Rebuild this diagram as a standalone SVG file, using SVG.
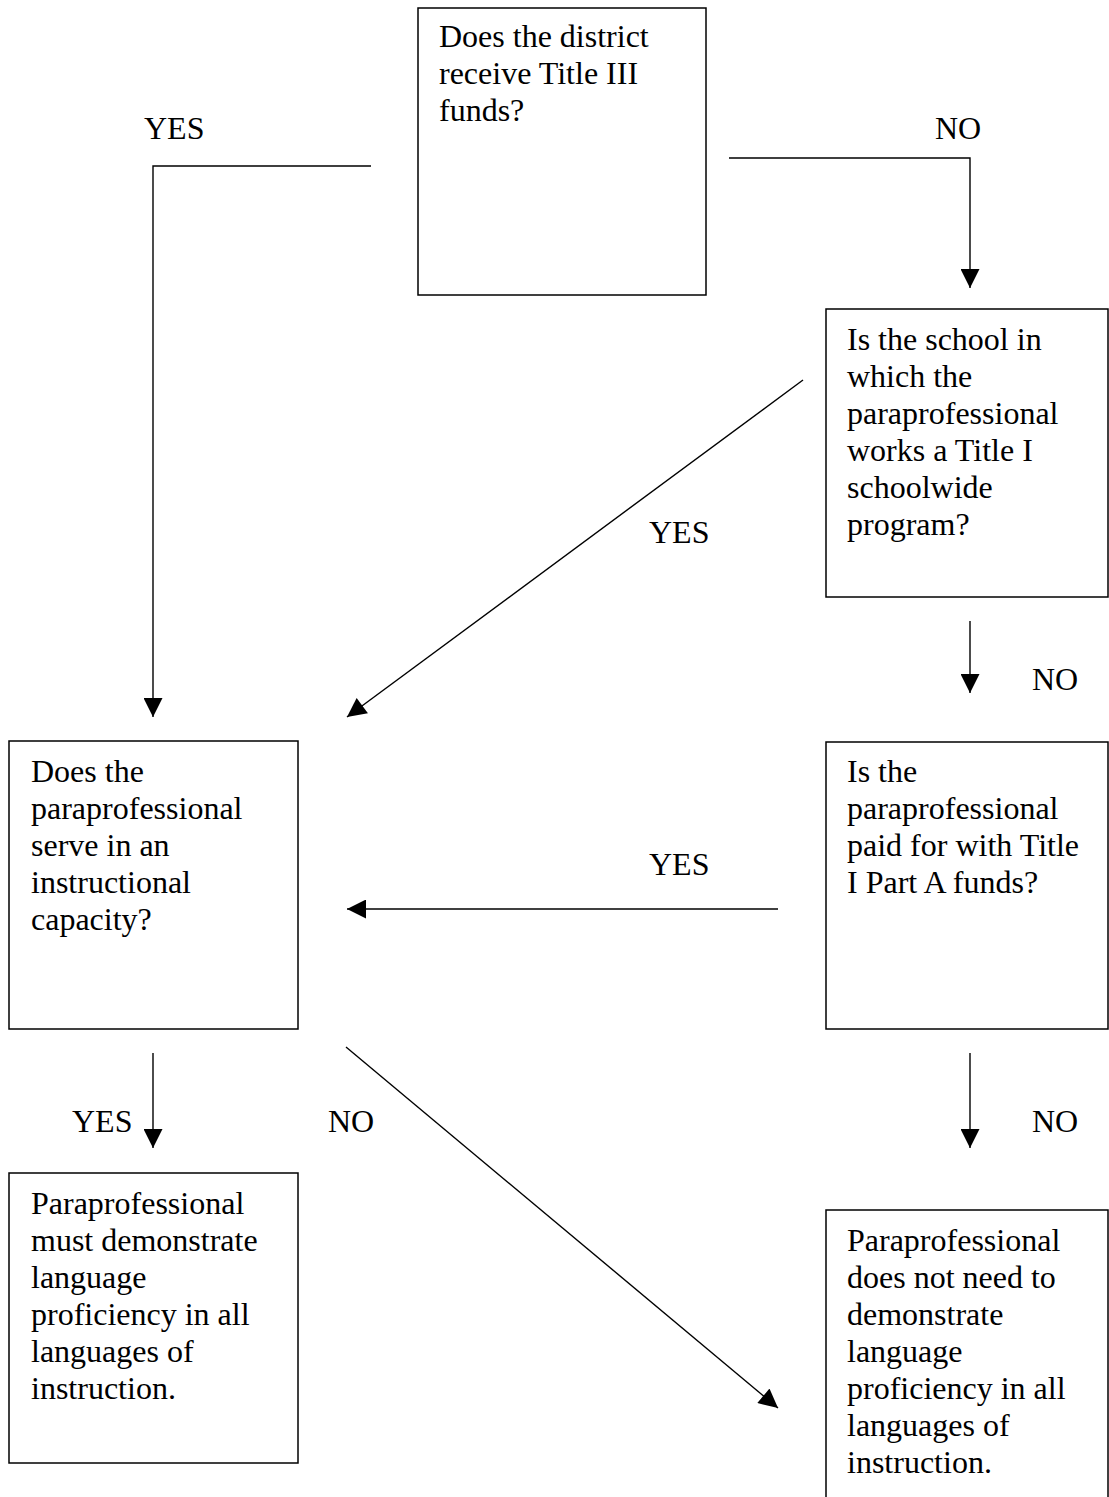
<svg xmlns="http://www.w3.org/2000/svg" width="1109" height="1497" viewBox="0 0 1109 1497">
<style>
.box{fill:#fff;stroke:#000;stroke-width:1.5}
.t{font-family:"Liberation Serif","Times New Roman",serif;font-size:32px;fill:#000}
.c{fill:none;stroke:#000;stroke-width:1.4}
</style>
<defs>
<marker id="ah" viewBox="0 0 20 20" refX="20" refY="10" markerWidth="20" markerHeight="19" markerUnits="userSpaceOnUse" orient="auto">
<path d="M0,0 L20,10 L0,20 Z" fill="#000"/>
</marker>
</defs>
<rect width="1109" height="1497" fill="#fff"/>
<g id="connectors">
<polyline class="c" points="371,166 153,166 153,717" marker-end="url(#ah)"/>
<polyline class="c" points="729,158 970,158 970,288" marker-end="url(#ah)"/>
<line class="c" x1="803" y1="380" x2="347" y2="717" marker-end="url(#ah)"/>
<line class="c" x1="970" y1="621" x2="970" y2="693" marker-end="url(#ah)"/>
<line class="c" x1="778" y1="909" x2="347" y2="909" marker-end="url(#ah)"/>
<line class="c" x1="153" y1="1053" x2="153" y2="1148" marker-end="url(#ah)"/>
<line class="c" x1="346" y1="1047" x2="778" y2="1408" marker-end="url(#ah)"/>
<line class="c" x1="970" y1="1053" x2="970" y2="1148" marker-end="url(#ah)"/>
</g>
<g id="labels">
<text class="t" x="144" y="139">YES</text>
<text class="t" x="935" y="139">NO</text>
<text class="t" x="649" y="543">YES</text>
<text class="t" x="1032" y="690">NO</text>
<text class="t" x="649" y="875">YES</text>
<text class="t" x="72" y="1132">YES</text>
<text class="t" x="328" y="1132">NO</text>
<text class="t" x="1032" y="1132">NO</text>
</g>
<g id="node-title3">
<rect class="box" x="418" y="8" width="288" height="287"/>
<text class="t" x="439" y="47">Does the district</text>
<text class="t" x="439" y="84">receive Title III</text>
<text class="t" x="439" y="121">funds?</text>
</g>
<g id="node-schoolwide">
<rect class="box" x="826" y="309" width="282" height="288"/>
<text class="t" x="847" y="350">Is the school in</text>
<text class="t" x="847" y="387">which the</text>
<text class="t" x="847" y="424">paraprofessional</text>
<text class="t" x="847" y="461">works a Title I</text>
<text class="t" x="847" y="498">schoolwide</text>
<text class="t" x="847" y="535">program?</text>
</g>
<g id="node-instructional">
<rect class="box" x="9" y="741" width="289" height="288"/>
<text class="t" x="31" y="782">Does the</text>
<text class="t" x="31" y="819">paraprofessional</text>
<text class="t" x="31" y="856">serve in an</text>
<text class="t" x="31" y="893">instructional</text>
<text class="t" x="31" y="930">capacity?</text>
</g>
<g id="node-paid">
<rect class="box" x="826" y="742" width="282" height="287"/>
<text class="t" x="847" y="782">Is the</text>
<text class="t" x="847" y="819">paraprofessional</text>
<text class="t" x="847" y="856">paid for with Title</text>
<text class="t" x="847" y="893">I Part A funds?</text>
</g>
<g id="node-must">
<rect class="box" x="9" y="1173" width="289" height="290"/>
<text class="t" x="31" y="1214">Paraprofessional</text>
<text class="t" x="31" y="1251">must demonstrate</text>
<text class="t" x="31" y="1288">language</text>
<text class="t" x="31" y="1325">proficiency in all</text>
<text class="t" x="31" y="1362">languages of</text>
<text class="t" x="31" y="1399">instruction.</text>
</g>
<g id="node-notneed">
<rect class="box" x="826" y="1210" width="282" height="300"/>
<text class="t" x="847" y="1251">Paraprofessional</text>
<text class="t" x="847" y="1288">does not need to</text>
<text class="t" x="847" y="1325">demonstrate</text>
<text class="t" x="847" y="1362">language</text>
<text class="t" x="847" y="1399">proficiency in all</text>
<text class="t" x="847" y="1436">languages of</text>
<text class="t" x="847" y="1473">instruction.</text>
</g>
</svg>
